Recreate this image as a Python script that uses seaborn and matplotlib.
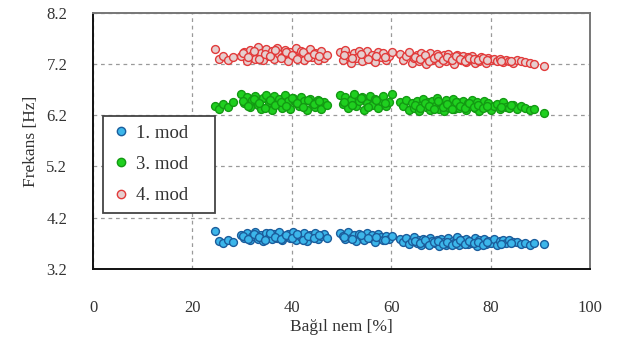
import matplotlib
matplotlib.use("Agg")
import matplotlib.pyplot as plt
import seaborn as sns
import pandas as pd
from matplotlib.lines import Line2D
from matplotlib.ticker import MultipleLocator

# Relative humidity [%] for each measurement
humidity = [
    24.6, 25.3, 26.1, 27.2, 28.1,
    29.8, 30.4, 30.9, 31.5, 32.0, 32.6, 33.1, 33.7, 34.2, 34.8,
    35.3, 35.9, 36.4, 37.0, 37.5, 38.1, 38.6, 39.2, 39.7, 40.3,
    40.8, 41.4, 41.9, 42.5, 43.0, 43.6, 44.1, 44.7, 45.2, 45.8,
    46.4, 47.1,
    49.6, 50.2, 50.7, 51.3, 51.8, 52.4, 52.9, 53.5, 54.0, 54.6,
    55.1, 55.7, 56.2, 56.8, 57.3, 57.9, 58.4, 59.0, 59.6, 60.1,
    61.8, 62.4, 63.0, 63.5, 64.1, 64.6, 65.1, 65.5, 66.0, 66.4,
    66.9, 67.3, 67.8, 68.2, 68.7, 69.1, 69.6, 70.0, 70.5, 70.9,
    71.4, 71.8, 72.3, 72.7, 73.2, 73.6, 74.1, 74.5, 75.0, 75.4,
    75.9, 76.3, 76.8, 77.2, 77.7, 78.1, 78.6, 79.0, 79.5, 80.0,
    80.6, 81.2, 81.8, 82.4, 83.0, 83.7, 84.4, 85.2, 86.0, 86.9,
    87.8, 88.6, 90.8,
    30.2, 31.2, 32.3, 33.4, 34.5, 35.6, 36.7, 37.8, 38.9, 40.0,
    41.1, 42.2, 43.3, 44.4, 45.5,
    50.5, 52.1, 53.8, 55.4, 57.0, 58.7,
    64.8, 65.8, 66.7, 67.6, 68.5, 69.4, 70.3, 71.2, 72.1, 73.0,
    73.9, 74.8, 75.7, 76.6, 77.5, 78.4, 79.3, 82.1, 84.0,
]

# Identified natural frequencies [Hz]
mode1 = [
    3.94, 3.74, 3.70, 3.77, 3.73,
    3.86, 3.80, 3.90, 3.76, 3.84, 3.92, 3.79, 3.87, 3.74, 3.91,
    3.83, 3.78, 3.88, 3.81, 3.93, 3.76, 3.85, 3.89, 3.80, 3.92,
    3.77, 3.86, 3.83, 3.90, 3.75, 3.87, 3.82, 3.91, 3.79, 3.85,
    3.88, 3.81,
    3.90, 3.84, 3.78, 3.92, 3.81, 3.87, 3.74, 3.89, 3.83, 3.77,
    3.91, 3.80, 3.86, 3.73, 3.88, 3.82, 3.76, 3.85, 3.79, 3.84,
    3.78, 3.72, 3.80, 3.69, 3.75, 3.82, 3.71, 3.77, 3.66, 3.79,
    3.73, 3.68, 3.81, 3.74, 3.70, 3.76, 3.64, 3.78, 3.72, 3.67,
    3.80, 3.69, 3.75, 3.71, 3.82, 3.66, 3.77, 3.73, 3.79, 3.68,
    3.74, 3.70, 3.81, 3.65, 3.76, 3.72, 3.78, 3.69, 3.75, 3.71,
    3.79, 3.67, 3.74, 3.77, 3.70, 3.76, 3.72, 3.73, 3.69, 3.71,
    3.67, 3.70, 3.68,
    3.84, 3.78, 3.89, 3.82, 3.76, 3.90, 3.83, 3.79, 3.86, 3.81,
    3.88, 3.77, 3.85, 3.80, 3.87,
    3.82, 3.79, 3.86, 3.80, 3.83, 3.77,
    3.74, 3.70, 3.77, 3.67, 3.72, 3.75, 3.69, 3.73, 3.66, 3.71,
    3.76, 3.68, 3.74, 3.70, 3.72, 3.66, 3.73, 3.69, 3.71,
]
mode3 = [
    6.38, 6.33, 6.42, 6.36, 6.45,
    6.62, 6.44, 6.55, 6.36, 6.49, 6.58, 6.40, 6.33, 6.53, 6.60,
    6.45, 6.30, 6.57, 6.42, 6.51, 6.35, 6.59, 6.47, 6.32, 6.54,
    6.44, 6.38, 6.56, 6.48, 6.31, 6.52, 6.43, 6.37, 6.50, 6.33,
    6.46, 6.40,
    6.60, 6.42, 6.55, 6.35, 6.50, 6.62, 6.38, 6.47, 6.56, 6.31,
    6.44, 6.58, 6.40, 6.52, 6.34, 6.48, 6.57, 6.39, 6.45, 6.61,
    6.46, 6.38, 6.50, 6.31, 6.43, 6.35, 6.48, 6.29, 6.41, 6.52,
    6.36, 6.45, 6.30, 6.47, 6.39, 6.53, 6.33, 6.44, 6.28, 6.49,
    6.37, 6.42, 6.51, 6.32, 6.46, 6.35, 6.40, 6.48, 6.30, 6.43,
    6.38, 6.50, 6.34, 6.45, 6.29, 6.41, 6.47, 6.36, 6.44, 6.31,
    6.39, 6.42, 6.33, 6.46, 6.37, 6.35, 6.40, 6.32, 6.38, 6.34,
    6.30, 6.33, 6.24,
    6.48, 6.39, 6.52, 6.44, 6.35, 6.50, 6.41, 6.46, 6.38, 6.54,
    6.43, 6.36, 6.49, 6.42, 6.47,
    6.46, 6.40, 6.53, 6.37, 6.49, 6.43,
    6.40, 6.34, 6.44, 6.38, 6.32, 6.47, 6.36, 6.42, 6.33, 6.45,
    6.39, 6.35, 6.43, 6.37, 6.41, 6.34, 6.38, 6.36, 6.40,
]
mode4 = [
    7.50, 7.30, 7.36, 7.28, 7.33,
    7.35, 7.44, 7.26, 7.48, 7.38, 7.30, 7.53, 7.41, 7.27, 7.50,
    7.36, 7.45, 7.29, 7.52, 7.39, 7.33, 7.47, 7.25, 7.43, 7.37,
    7.51, 7.31, 7.46, 7.28, 7.40, 7.49, 7.34, 7.42, 7.27, 7.45,
    7.32, 7.38,
    7.44, 7.28, 7.47, 7.35, 7.22, 7.42, 7.31, 7.46, 7.26, 7.39,
    7.45, 7.30, 7.37, 7.24, 7.43, 7.33, 7.41, 7.27, 7.36, 7.44,
    7.40, 7.27, 7.35, 7.43, 7.22, 7.32, 7.38, 7.25, 7.41, 7.30,
    7.20, 7.36, 7.42, 7.28, 7.33, 7.39, 7.23, 7.31, 7.37, 7.26,
    7.40, 7.29, 7.34, 7.21, 7.38, 7.31, 7.27, 7.36, 7.24, 7.33,
    7.29, 7.35, 7.22, 7.30, 7.26, 7.34, 7.28, 7.23, 7.32, 7.27,
    7.30, 7.25, 7.29, 7.24, 7.28, 7.26, 7.23, 7.27, 7.25, 7.24,
    7.22, 7.21, 7.16,
    7.42, 7.33, 7.46, 7.29, 7.40, 7.35, 7.48, 7.31, 7.44, 7.37,
    7.30, 7.43, 7.34, 7.39, 7.36,
    7.38, 7.32, 7.40, 7.29, 7.35, 7.33,
    7.34, 7.29, 7.37, 7.25, 7.31, 7.35, 7.27, 7.33, 7.28, 7.36,
    7.30, 7.26, 7.32, 7.29, 7.27, 7.31, 7.28, 7.26, 7.25,
]

labels = ["1. mod", "3. mod", "4. mod"]
series = [mode1, mode3, mode4]
fills = ["#3cb6ea", "#1fd01f", "#e6cfcf"]
edges = ["#1b5d9c", "#139a13", "#e23a3a"]

x_ticks = [0, 20, 40, 60, 80, 100]
y_ticks = [3.2, 4.2, 5.2, 6.2, 7.2, 8.2]

sns.set_style("white")
plt.rcParams["font.family"] = ["Liberation Serif", "DejaVu Serif"]
plt.rcParams["text.color"] = "#333333"

fig = plt.figure(figsize=(6.2, 3.47), dpi=100)
ax = fig.add_axes([0.150, 0.225, 0.802, 0.738])

for y, lab, fc, ec in zip(series, labels, fills, edges):
    df = pd.DataFrame({"nem": humidity, "f": y})
    sns.scatterplot(data=df, x="nem", y="f", ax=ax, s=32, color=fc,
                    edgecolor=ec, linewidth=1.0, zorder=3, legend=False)

ax.set_xlim(0, 100)
ax.set_ylim(3.2, 8.2)
ax.set_xticks(x_ticks)
ax.set_yticks(y_ticks)
ax.set_yticklabels([f"{v:.1f}" for v in y_ticks])
ax.xaxis.set_minor_locator(MultipleLocator(10))

ax.grid(True, which="major", linestyle=(0, (3, 3)), color="#9a9a9a",
        linewidth=0.9, zorder=0)
ax.set_axisbelow(True)

ax.tick_params(axis="both", which="major", direction="inout", length=9,
               width=1.2, colors="#222222", labelsize=12, labelcolor="#333333")
ax.tick_params(axis="x", which="major", pad=18)
ax.tick_params(axis="y", which="major", pad=14)
ax.tick_params(axis="x", which="minor", direction="inout", length=7,
               width=1.0, colors="#222222")

for side in ["left", "bottom"]:
    ax.spines[side].set_color("#111111")
    ax.spines[side].set_linewidth(1.4)
for side in ["top", "right"]:
    ax.spines[side].set_color("#777777")
    ax.spines[side].set_linewidth(1.4)

ax.set_xlabel("Bağıl nem [%]", fontsize=12.5, color="#333333", labelpad=2)
ax.set_ylabel("Frekans [Hz]", fontsize=12.5, color="#333333", labelpad=5)

handles = [Line2D([], [], linestyle="none", marker="o", markersize=6,
                  markerfacecolor=fc, markeredgecolor=ec, markeredgewidth=1.0)
           for fc, ec in zip(fills, edges)]
leg = ax.legend(handles, labels, loc="upper left", mode="expand",
                bbox_to_anchor=(0.02, 0.596, 0.225, 0.0),
                fontsize=13.5, frameon=True, fancybox=False, framealpha=1,
                edgecolor="#444444", labelspacing=0.75, handletextpad=0.3,
                handlelength=1.0, borderpad=0.45, borderaxespad=0)
leg.get_frame().set_linewidth(1.3)

fig.savefig("out.png", dpi=100)
